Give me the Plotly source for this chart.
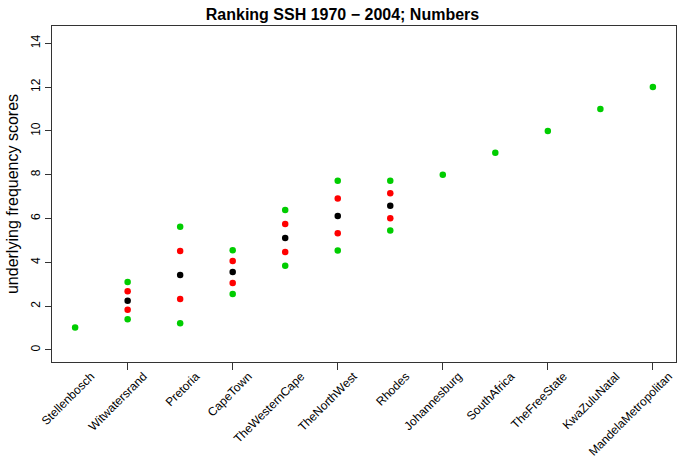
import plotly.graph_objects as go

categories = ["Stellenbosch", "Witwatersrand", "Pretoria", "CapeTown", "TheWesternCape",
              "TheNorthWest", "Rhodes", "Johannesburg", "SouthAfrica", "TheFreeState",
              "KwaZuluNatal", "MandelaMetropolitan"]
green_hi = [1.02, 3.10, 5.62, 4.55, 6.39, 7.72, 7.72, 8.0, 9.0, 10.0, 11.0, 12.0]
red_hi   = [None, 2.68, 4.52, 4.06, 5.75, 6.91, 7.15, None, None, None, None, None]
black    = [None, 2.25, 3.42, 3.56, 5.11, 6.12, 6.58, None, None, None, None, None]
red_lo   = [None, 1.83, 2.33, 3.06, 4.47, 5.33, 6.01, None, None, None, None, None]
green_lo = [None, 1.40, 1.22, 2.56, 3.84, 4.54, 5.45, None, None, None, None, None]

pos = list(range(1, len(categories) + 1))
GREEN = "#00CD00"
RED = "#FF0000"
BLACK = "#000000"
FONT = "Liberation Sans, Arial, Helvetica, sans-serif"

fig = go.Figure()
for vals, col in [(green_hi, GREEN), (red_hi, RED), (black, BLACK), (red_lo, RED), (green_lo, GREEN)]:
    fig.add_trace(go.Scatter(x=pos, y=vals, mode="markers",
                             marker=dict(color=col, size=6.5, line=dict(width=0)),
                             showlegend=False, hoverinfo="x+y"))
# invisible trace to anchor the label axis
fig.add_trace(go.Scatter(x=[pos[0]], y=[green_hi[0]], xaxis="x2", mode="markers",
                         marker=dict(opacity=0), showlegend=False, hoverinfo="skip"))

xr = [0.56, 12.44]
lab_shift = 0.3  # labels sit slightly right of their positions (R srt=45, adj=1)
fig.update_layout(
    width=685, height=461,
    margin=dict(l=52.3, r=8.5, t=26.3, b=99),
    paper_bgcolor="white", plot_bgcolor="white",
    font=dict(family=FONT, color="black", size=12),
    title=dict(text="<b>Ranking SSH 1970 \u2212 2004; Numbers</b>", x=0.5, xanchor="center",
               y=1 - 14.5 / 461, yanchor="middle", yref="container", font=dict(size=16)),
    xaxis=dict(range=xr, tickvals=[2, 4, 6, 8, 10, 12], showticklabels=False,
               ticks="outside", ticklen=7, tickcolor="#333", tickwidth=1,
               showline=True, linecolor="#333", linewidth=1, mirror=True,
               showgrid=False, zeroline=False, automargin=False),
    xaxis2=dict(range=[xr[0] - lab_shift, xr[1] - lab_shift], overlaying="x", side="bottom", anchor="y",
                tickvals=pos, ticktext=categories, tickangle=-45,
                ticks="", showline=False, showgrid=False, zeroline=False,
                tickfont=dict(size=12), ticklabelstandoff=4, automargin=False),
    yaxis=dict(range=[-0.55, 14.79], tickvals=[0, 2, 4, 6, 8, 10, 12, 14], tickangle=-90,
               ticks="outside", ticklen=6, tickcolor="#333", tickwidth=1,
               showline=True, linecolor="#333", linewidth=1, mirror=True,
               showgrid=False, zeroline=False, tickfont=dict(size=12), automargin=False,
               title=dict(text="underlying frequency scores", font=dict(size=16), standoff=6)),
)
fig.write_html("out.html", config={"displayModeBar": False},
               post_script="document.body.style.margin='0px';")
